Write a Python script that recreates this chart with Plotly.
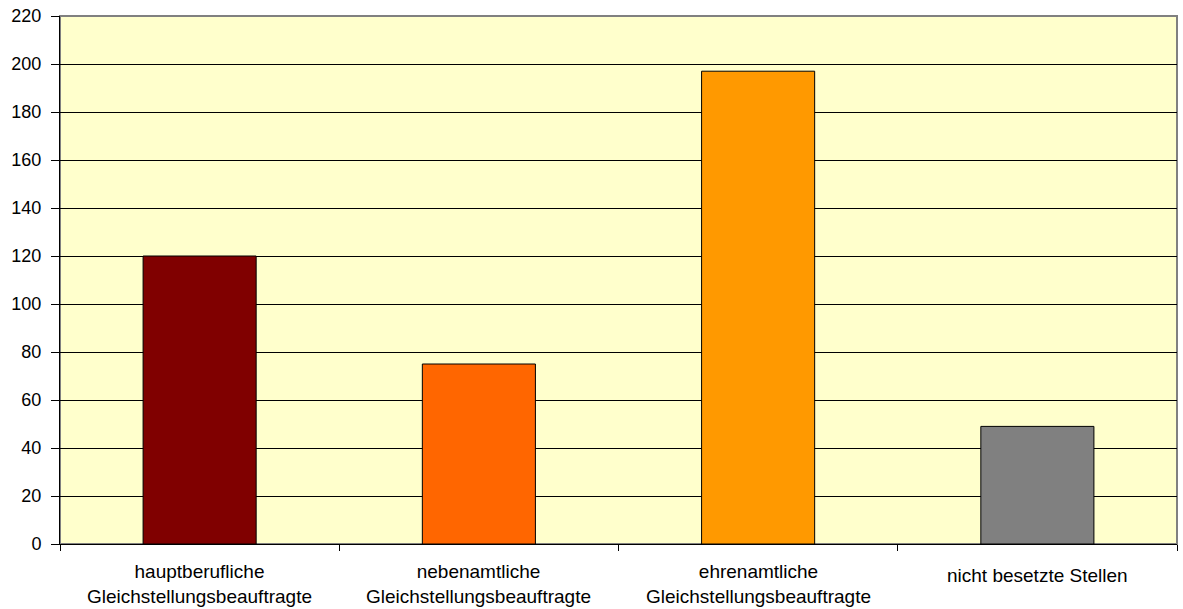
import plotly.graph_objects as go

categories = ["hauptberufliche<br>Gleichstellungsbeauftragte",
              "nebenamtliche<br>Gleichstellungsbeauftragte",
              "ehrenamtliche<br>Gleichstellungsbeauftragte",
              "nicht besetzte Stellen"]
values = [120, 75, 197, 49]
colors = ["#800000", "#FF6600", "#FF9900", "#808080"]
y_ticks = [0, 20, 40, 60, 80, 100, 120, 140, 160, 180, 200, 220]

xpos = list(range(len(values)))
bounds = [i - 0.5 for i in range(len(values) + 1)]

fig = go.Figure(go.Bar(
    x=xpos, y=values,
    marker=dict(color=colors, line=dict(color="black", width=1)),
    width=0.405,
))

family = "Liberation Sans, Arial, sans-serif"
yfont = dict(family=family, size=18, color="black")
xfont = dict(family=family, size=19, color="black")

annotations = []
for i in xpos:
    two_lines = "<br>" in categories[i]
    annotations.append(dict(x=i, xref="x", y=0, yref="paper", text=categories[i],
                            showarrow=False, yanchor="middle",
                            yshift=-40 if two_lines else -31,
                            font=xfont))

fig.update_layout(
    width=1183, height=609,
    margin=dict(l=60, r=6, t=16, b=65),
    paper_bgcolor="white",
    plot_bgcolor="#FFFFCC",
    font=yfont,
    showlegend=False,
    xaxis=dict(
        range=[-0.5, len(values) - 0.5],
        tickmode="array", tickvals=bounds, showticklabels=False,
        ticks="outside", ticklen=6, tickcolor="black", tickwidth=1,
        showgrid=False, zeroline=False, automargin=False,
        showline=True, linecolor="black", linewidth=1,
    ),
    yaxis=dict(
        range=[0, 220],
        tickmode="array", tickvals=y_ticks,
        ticks="outside", ticklen=8, tickcolor="black",
        showgrid=True, gridcolor="black", gridwidth=1,
        zeroline=False, automargin=False,
        showline=True, linecolor="black", linewidth=1,
        tickfont=yfont, ticklabelstandoff=6,
    ),
    annotations=annotations,
    shapes=[dict(type="rect", xref="paper", yref="paper", x0=0, y0=0, x1=1, y1=1,
                 line=dict(color="#808080", width=2), layer="below")],
)

fig.write_html("out.html")
